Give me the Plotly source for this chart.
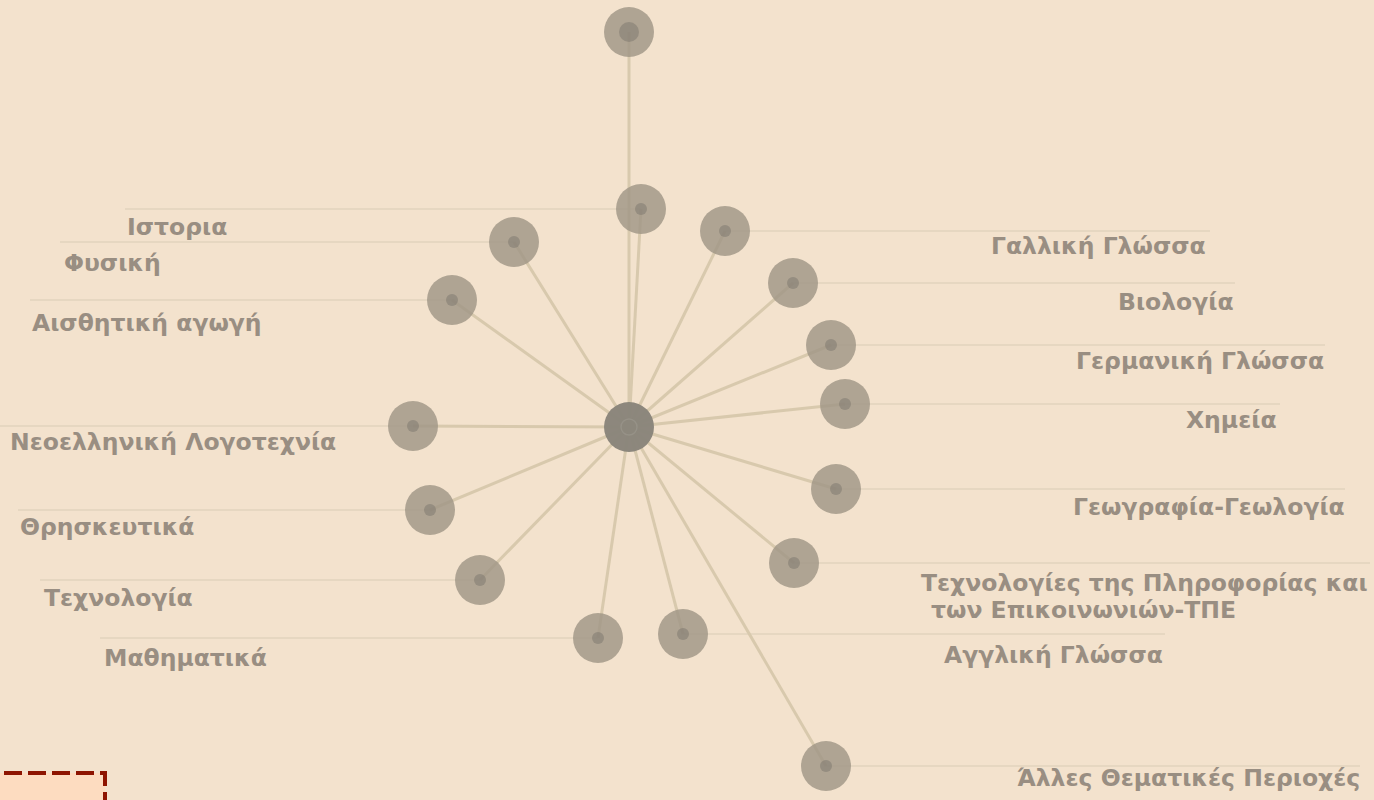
import plotly.graph_objects as go

# ---- data: subject network (hub + spokes) ----
hub = ("", 629, 427)
labels = ["", "Ιστορια", "Φυσική", "Αισθητική αγωγή", "Νεοελληνική Λογοτεχνία",
          "Θρησκευτικά", "Τεχνολογία", "Μαθηματικά",
          "Γαλλική Γλώσσα", "Βιολογία", "Γερμανική Γλώσσα", "Χημεία",
          "Γεωγραφία-Γεωλογία",
          "Τεχνολογίες της Πληροφορίας και<br>των Επικοινωνιών-ΤΠΕ",
          "Αγγλική Γλώσσα", "Άλλες Θεματικές Περιοχές"]
node_x = [629, 641, 514, 452, 413, 430, 480, 598, 725, 793, 831, 845, 836, 794, 683, 826]
node_y = [32, 209, 242, 300, 426, 510, 580, 638, 231, 283, 345, 404, 489, 563, 634, 766]
side = ["", "L", "L", "L", "L", "L", "L", "L", "R", "R", "R", "R", "R", "M", "R", "R"]
leader_end = [None, 125, 60, 30, 0, 18, 40, 100, 1210, 1235, 1325, 1280, 1345, 1370, 1165, 1360]
label_x = [None, 125, 62, 30, 8, 18, 42, 102, 1208, 1236, 1326, 1279, 1347, 1370, 1165, 1362]
label_dy = [0, 18, 21, 23, 16, 17, 18, 20, 15, 19, 16, 16, 18, 20, 21, 12]

BG = "#f3e2cd"
EDGE = "#d8c9ad"
LEADER = "#e2d3bc"
TEXT = "#998e82"
FS = 23.5

fig = go.Figure()

# leader lines
lx, ly = [], []
for x, y, s, e in zip(node_x, node_y, side, leader_end):
    if e is None:
        continue
    lx += [e, x, None]
    ly += [y, y, None]
fig.add_trace(go.Scatter(x=lx, y=ly, mode="lines",
                         line=dict(color=LEADER, width=1.6), hoverinfo="skip"))

# spokes
ex, ey = [], []
for x, y in zip(node_x, node_y):
    ex += [hub[1], x, None]
    ey += [hub[2], y, None]
fig.add_trace(go.Scatter(x=ex, y=ey, mode="lines",
                         line=dict(color=EDGE, width=3), hoverinfo="skip"))

# nodes: outer halo
fig.add_trace(go.Scatter(x=node_x, y=node_y, mode="markers",
                         marker=dict(size=50, color="rgba(160,150,134,0.82)", line=dict(width=0)),
                         hoverinfo="skip"))
# inner dot
inner = [20] + [12] * (len(node_x) - 1)
fig.add_trace(go.Scatter(x=node_x, y=node_y, mode="markers",
                         marker=dict(size=inner, color="rgba(125,120,110,0.75)", line=dict(width=0)),
                         hoverinfo="skip"))
# hub
fig.add_trace(go.Scatter(x=[hub[1]], y=[hub[2]], mode="markers",
                         marker=dict(size=50, color="rgba(137,132,122,0.97)", line=dict(width=0)),
                         hoverinfo="skip"))
fig.add_trace(go.Scatter(x=[hub[1]], y=[hub[2]], mode="markers",
                         marker=dict(size=16, color="rgba(0,0,0,0)", line=dict(width=1.5, color="rgba(160,155,145,0.5)")),
                         hoverinfo="skip"))

font = dict(family="DejaVu Sans", size=FS, color=TEXT, weight="bold")
# labels
for lab, x, y, s, tx, dy in zip(labels, node_x, node_y, side, label_x, label_dy):
    if not lab:
        continue
    if s == "L":
        fig.add_annotation(x=tx, y=y + dy, text=lab, xanchor="left", yanchor="middle",
                           showarrow=False, font=font)
    elif s == "M":
        parts = lab.split("<br>")
        fig.add_annotation(x=tx, y=y + dy, text=parts[0], xanchor="right", yanchor="middle",
                           showarrow=False, font=font)
        fig.add_annotation(x=929, y=y + dy + 27, text=parts[1], xanchor="left", yanchor="middle",
                           showarrow=False, font=font)
    else:
        fig.add_annotation(x=tx, y=y + dy, text=lab, xanchor="right", yanchor="middle",
                           showarrow=False, font=font)

# dashed box bottom-left
fig.add_shape(type="rect", x0=-20, x1=105, y0=773, y1=830,
              fillcolor="#fddcc0", line=dict(color="#8e1400", width=4, dash="18px,6px"),
              layer="above")

fig.update_layout(
    width=1374, height=800,
    margin=dict(l=0, r=0, t=0, b=0),
    paper_bgcolor=BG, plot_bgcolor=BG,
    showlegend=False,
    xaxis=dict(range=[0, 1374], visible=False, fixedrange=True),
    yaxis=dict(range=[800, 0], visible=False, fixedrange=True),
)
fig.write_html("out.html", config={"displayModeBar": False},
               post_script="document.body.style.margin='0';document.body.style.overflow='hidden';")
